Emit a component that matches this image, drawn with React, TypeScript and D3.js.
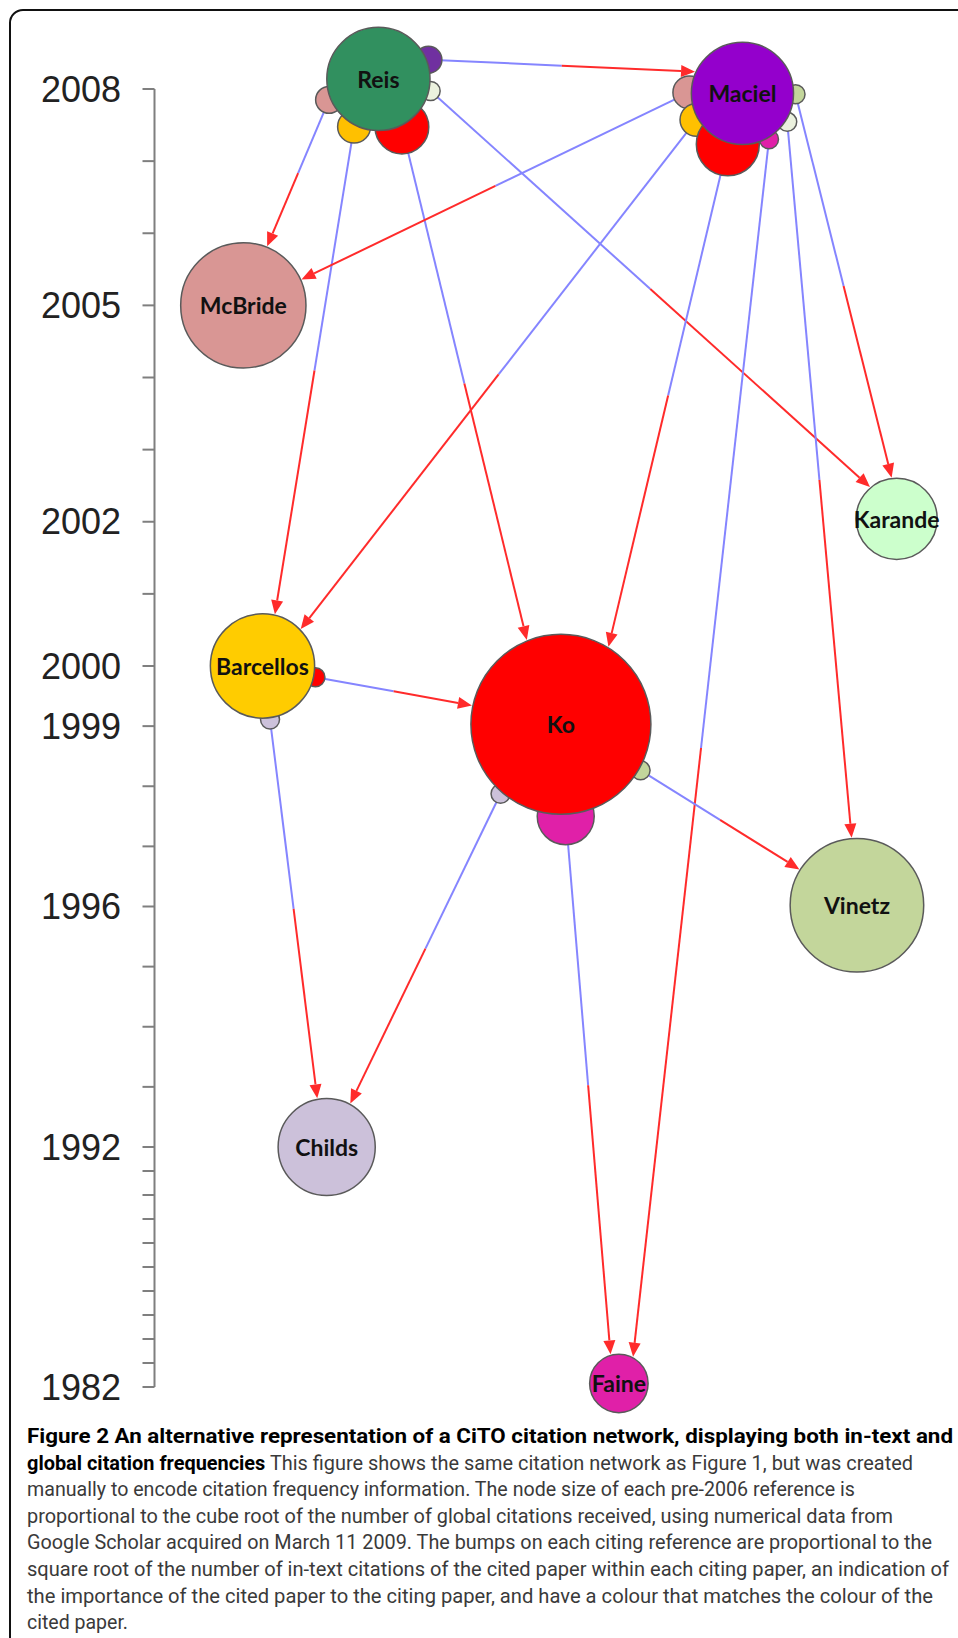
import React from 'react';
import * as d3 from 'd3';

const width = 958;
const height = 1638;

// year axis
const tickYears = d3.range(1982, 2009);
const yearLabels = [2008, 2005, 2002, 2000, 1999, 1996, 1992, 1982];

// papers (nodes)
const nodeNames = ['Reis', 'Maciel', 'McBride', 'Karande', 'Barcellos', 'Ko', 'Vinetz', 'Childs', 'Faine'];
const nodeYears = [2008.14, 2007.94, 2005, 2002.04, 2000, 1999.03, 1996.02, 1992, 1982.15];
const nodeLanes = [39.5, 77.5, 25.4, 93.6, 27.4, 58.55, 89.45, 34.1, 64.6];
const nodeCitations = [66, 64, 118, 32, 68, 350, 143, 55, 12];
const nodeColors = ['#31905f', '#9400cc', '#d99694', '#ccffcc', '#ffcc00', '#ff0000', '#c3d69b', '#ccc1da', '#e020a8'];

// citations: [citing, cited, in-text count, bump colour]
const citations: [string, string, number, string][] = [
  ['Reis', 'Maciel', 2, '#7030a0'],
  ['Reis', 'Karande', 1, '#ebf1de'],
  ['Reis', 'Barcellos', 3, '#ffc000'],
  ['Reis', 'Ko', 8, '#ff0000'],
  ['Reis', 'McBride', 2, '#d99694'],
  ['Maciel', 'McBride', 3, '#d99694'],
  ['Maciel', 'Barcellos', 3, '#ffc000'],
  ['Maciel', 'Ko', 11, '#ff0000'],
  ['Maciel', 'Faine', 1, '#e020a8'],
  ['Maciel', 'Vinetz', 1, '#ebf1de'],
  ['Maciel', 'Karande', 1, '#c3d69b'],
  ['Barcellos', 'Ko', 1, '#ff0000'],
  ['Barcellos', 'Childs', 1, '#ccc1da'],
  ['Ko', 'Childs', 1, '#ccc1da'],
  ['Ko', 'Vinetz', 1, '#c3d69b'],
  ['Ko', 'Faine', 9, '#e020a8'],
];
// where the bump sits on the citing node / where the arrow lands on the cited node (degrees)
const bumpAngles = [-21, 13, 117, 64, 157, 181, 150, 106, 60, 32.5, 1, 12, 82, 131, 30, 87];
const landAngles = [-155.5, -130, -76.5, -112, -68, -24, -44, -58.5, -62, -94.5, -97, -168, -101, -61.5, -148, -106];

const captionLines: { bold: string; text: string; len: number }[] = [
  { bold: 'Figure 2 An alternative representation of a CiTO citation network, displaying both in-text and', text: '', len: 926 },
  { bold: 'global citation frequencies', text: ' This figure shows the same citation network as Figure 1, but was created', len: 886 },
  { bold: '', text: 'manually to encode citation frequency information. The node size of each pre-2006 reference is', len: 828 },
  { bold: '', text: 'proportional to the cube root of the number of global citations received, using numerical data from', len: 866 },
  { bold: '', text: 'Google Scholar acquired on March 11 2009. The bumps on each citing reference are proportional to the', len: 905 },
  { bold: '', text: 'square root of the number of in-text citations of the cited paper within each citing paper, an indication of', len: 922 },
  { bold: '', text: 'the importance of the cited paper to the citing paper, and have a colour that matches the colour of the', len: 906 },
  { bold: '', text: 'cited paper.', len: 101 },
];

const BLUE = '#8585ff';
const RED = '#ff2b2b';

const App = () => {
  const y = d3.scaleLinear().domain([1982, 1992, 2000, 2008]).range([1387, 1147, 666, 89]);
  const x = d3.scaleLinear().domain([0, 100]).range([0, width]);
  const rNode = d3.scalePow().exponent(1 / 3).domain([0, 350]).range([0, 90]);
  const rBump = d3.scaleSqrt().domain([0, 1]).range([0, 9.5]);
  const axisX = 154.5;

  const nodes = nodeNames.map((name, i) => ({
    name,
    cx: x(nodeLanes[i]),
    cy: y(nodeYears[i]),
    r: rNode(nodeCitations[i]),
    color: nodeColors[i],
  }));
  const byName = new Map(nodes.map((n) => [n.name, n]));

  const links = citations.map(([src, tgt, count, bumpColor], i) => {
    const s = byName.get(src)!;
    const t = byName.get(tgt)!;
    const a = (bumpAngles[i] * Math.PI) / 180;
    const br = rBump(count);
    const bx = s.cx + (s.r + 2) * Math.cos(a);
    const by = s.cy + (s.r + 2) * Math.sin(a);
    const l = (landAngles[i] * Math.PI) / 180;
    const tx = t.cx + (t.r + 1) * Math.cos(l);
    const ty = t.cy + (t.r + 1) * Math.sin(l);
    const ang = Math.atan2(ty - by, tx - bx);
    const hl = 14;
    const hw = 6;
    const baseX = tx - hl * Math.cos(ang);
    const baseY = ty - hl * Math.sin(ang);
    const px = -Math.sin(ang);
    const py = Math.cos(ang);
    const head = [
      [tx, ty],
      [baseX + px * hw, baseY + py * hw],
      [baseX - px * hw, baseY - py * hw],
    ];
    return {
      key: `${src}-${tgt}`,
      bx, by, br, bumpColor,
      mx: (bx + tx) / 2,
      my: (by + ty) / 2,
      baseX, baseY,
      head: head.map((p) => p.join(',')).join(' '),
    };
  });

  return (
    <svg width={width} height={height} style={{ display: 'block' }}>
      <style>{'body{margin:0}'}</style>
      <rect x={0} y={0} width={width} height={height} fill="#ffffff" />
      <rect x={10} y={10} width={990} height={1700} rx={13} fill="none" stroke="#111" strokeWidth={2} />

      {/* year axis */}
      <g stroke="#7f7f7f" strokeWidth={2}>
        <line x1={axisX} x2={axisX} y1={y(2008)} y2={y(1982)} />
        {tickYears.map((yr) => (
          <line key={yr} x1={axisX - 12} x2={axisX} y1={y(yr)} y2={y(yr)} />
        ))}
      </g>
      <g fontFamily="'Liberation Sans', Arial, sans-serif" fontSize={36} fill="#222" textAnchor="end">
        {yearLabels.map((yr) => (
          <text key={yr} x={121} y={y(yr) + 12.5}>
            {yr}
          </text>
        ))}
      </g>

      {/* citation links: blue half at citing end, red half + arrow at cited end */}
      {links.map((lk) => (
        <g key={lk.key}>
          <line x1={lk.bx} y1={lk.by} x2={lk.mx} y2={lk.my} stroke={BLUE} strokeWidth={2} />
          <line x1={lk.mx} y1={lk.my} x2={lk.baseX} y2={lk.baseY} stroke={RED} strokeWidth={2} />
          <polygon points={lk.head} fill={RED} />
        </g>
      ))}

      {/* bumps */}
      {links.map((lk) => (
        <circle key={lk.key} cx={lk.bx} cy={lk.by} r={lk.br} fill={lk.bumpColor} stroke="#5a5a5a" strokeWidth={1.5} />
      ))}

      {/* papers */}
      {nodes.map((n) => (
        <g key={n.name}>
          <circle cx={n.cx} cy={n.cy} r={n.r} fill={n.color} stroke="#5a5a5a" strokeWidth={1.5} />
          <text
            x={n.cx}
            y={n.cy}
            textAnchor="middle"
            dominantBaseline="central"
            fontFamily="Lato, 'Open Sans', sans-serif"
            fontWeight={700}
            fontSize={23}
            fill="#111"
          >
            {n.name}
          </text>
        </g>
      ))}

      {/* caption */}
      <g fontFamily="Roboto, 'Open Sans', sans-serif" fontSize={19.5}>
        {captionLines.map((ln, i) => (
          <text key={i} x={27} y={1443 + i * 26.6} textLength={ln.len} lengthAdjust="spacingAndGlyphs">
            {ln.bold && (
              <tspan fontWeight={700} fill="#000">
                {ln.bold}
              </tspan>
            )}
            {ln.text && <tspan fill="#3a3a3a">{ln.text}</tspan>}
          </text>
        ))}
      </g>
    </svg>
  );
};

export default App;
